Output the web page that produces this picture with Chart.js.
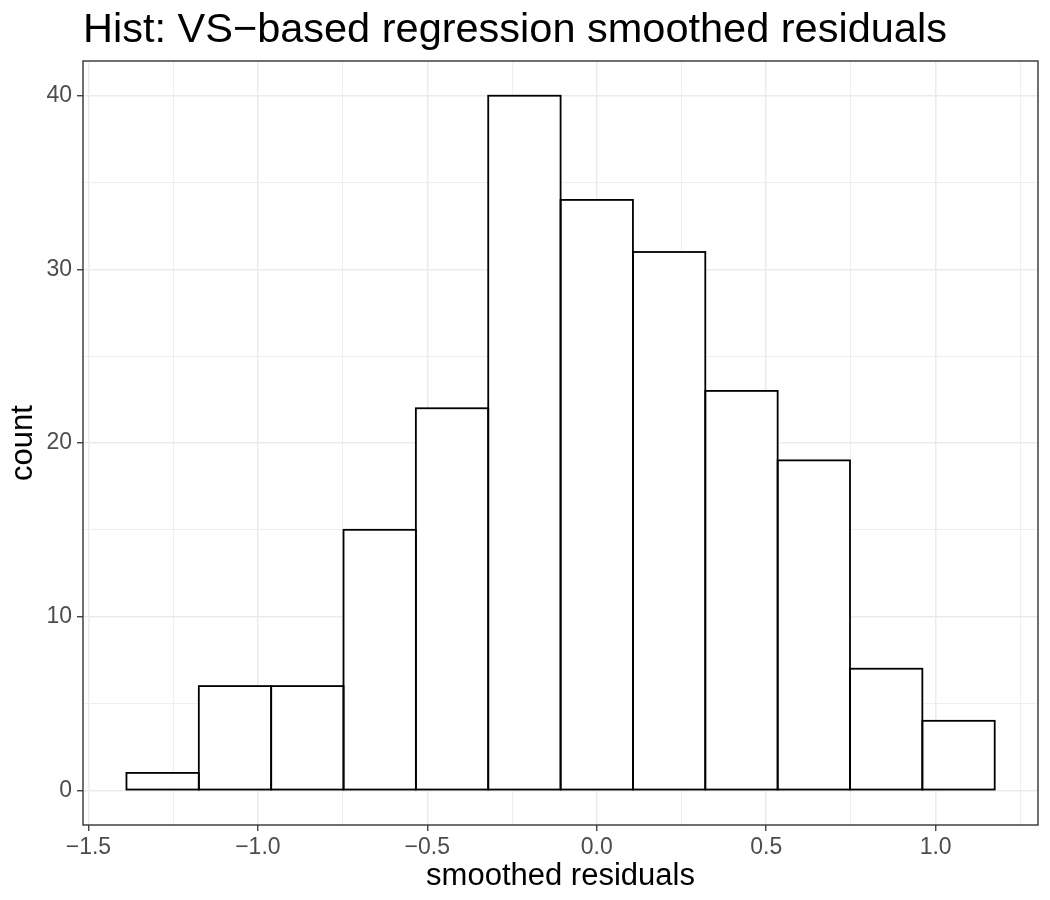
<!DOCTYPE html>
<html>
<head>
<meta charset="utf-8">
<script src="https://cdn.jsdelivr.net/npm/chart.js@4/dist/chart.umd.min.js"></script>
<style>
  body { margin: 0; background: #ffffff; }
  canvas { display: block; }
</style>
</head>
<body>
<canvas id="hist" width="1050" height="900"></canvas>
<script>
// chart data
const titleText = "Hist: VS\u2212based regression smoothed residuals";
const xTitle = "smoothed residuals";
const yTitle = "count";

// bin centres and counts (12 bins)
const binCenters = [-1.281, -1.0675, -0.854, -0.6405, -0.427, -0.2135, 0, 0.2135, 0.427, 0.6405, 0.854, 1.0675];
const counts = [1, 6, 6, 15, 22, 40, 34, 31, 23, 19, 7, 4];

// axis ticks
const xMajor = [-1.5, -1.0, -0.5, 0, 0.5, 1.0];
const xMajorLabels = ["\u22121.5", "\u22121.0", "\u22120.5", "0.0", "0.5", "1.0"];
const xMinor = [-1.25, -0.75, -0.25, 0.25, 0.75, 1.25];
const yMajor = [0, 10, 20, 30, 40];
const yMajorLabels = ["0", "10", "20", "30", "40"];
const yMinor = [5, 15, 25, 35];

// axis limits
const xMin = -1.516;
const xMax = 1.302;
const yMin = -2;
const yMax = 42;

// colours
const gridColor = "#EBEBEB";
const axisColor = "#333333";
const tickLabelColor = "#4D4D4D";

Chart.defaults.font.family = '"Liberation Sans", Arial, Helvetica, sans-serif';

const isMajor = (list, v) => list.indexOf(v) > -1;

// builds a sorted tick list from major + minor values
const makeTicks = (major, minor) => {
  return major.concat(minor).sort((a, b) => a - b).map((v) => ({ value: v }));
};

// draws the plot title left aligned to the panel
const titlePlugin = {
  id: "panelTitle",
  afterDraw(chart) {
    const ctx = chart.ctx;
    ctx.save();
    ctx.font = '41.5px "Liberation Sans", Arial, sans-serif';
    ctx.fillStyle = "#000000";
    ctx.textBaseline = "alphabetic";
    ctx.textAlign = "left";
    ctx.fillText(titleText, chart.chartArea.left, 42);
    ctx.restore();
  },
};

// outlines each bar with a centred stroke like ggplot, and the panel border
const outlinePlugin = {
  id: "outlines",
  afterDatasetsDraw(chart) {
    const ctx = chart.ctx;
    const meta = chart.getDatasetMeta(0);
    ctx.save();
    ctx.strokeStyle = "#000000";
    ctx.lineWidth = 1.8;
    for (const bar of meta.data) {
      const p = bar.getProps(["x", "y", "base", "width"], true);
      ctx.strokeRect(p.x - p.width / 2, p.y, p.width, p.base - p.y);
    }
    ctx.restore();
  },
  afterDraw(chart) {
    const a = chart.chartArea;
    const ctx = chart.ctx;
    ctx.save();
    ctx.strokeStyle = axisColor;
    ctx.lineWidth = 1.4;
    ctx.strokeRect(a.left, a.top, a.right - a.left, a.bottom - a.top);
    ctx.restore();
  },
};

const histData = {
  type: "bar",
  data: {
    datasets: [
      {
        label: "count",
        data: binCenters.map((x, i) => ({ x: x, y: counts[i] })),
        backgroundColor: "#ffffff",
        borderWidth: 0,
        barPercentage: 1,
        categoryPercentage: 1,
      },
    ],
  },
  options: {
    responsive: false,
    animation: false,
    layout: {
      padding: { top: 61, right: 12, bottom: 0, left: 0 },
    },
    plugins: {
      legend: { display: false },
      tooltip: { enabled: false },
      title: { display: false },
    },
    scales: {
      x: {
        type: "linear",
        min: xMin,
        max: xMax,
        offset: false,
        afterBuildTicks: (scale) => {
          scale.ticks = makeTicks(xMajor, xMinor);
        },
        afterFit: (scale) => {
          scale.height = 75;
        },
        grid: {
          offset: false,
          color: (c) => gridColor,
          lineWidth: (c) => (c.tick && isMajor(xMajor, c.tick.value) ? 1.5 : 0.8),
          tickColor: (c) => (c.tick && isMajor(xMajor, c.tick.value) ? axisColor : "rgba(0,0,0,0)"),
          tickLength: 6,
          tickWidth: 1.3,
        },
        border: { display: false },
        ticks: {
          autoSkip: false,
          maxRotation: 0,
          padding: 3,
          color: tickLabelColor,
          font: { size: 23 },
          callback: (value) => {
            const idx = xMajor.indexOf(value);
            return idx > -1 ? xMajorLabels[idx] : "";
          },
        },
        title: {
          display: true,
          text: xTitle,
          color: "#000000",
          font: { size: 31, lineHeight: 1 },
          padding: { top: 0, bottom: 8 },
        },
      },
      y: {
        type: "linear",
        min: yMin,
        max: yMax,
        afterBuildTicks: (scale) => {
          scale.ticks = makeTicks(yMajor, yMinor);
        },
        afterFit: (scale) => {
          scale.width = 83;
        },
        grid: {
          color: (c) => gridColor,
          lineWidth: (c) => (c.tick && isMajor(yMajor, c.tick.value) ? 1.5 : 0.8),
          tickColor: (c) => (c.tick && isMajor(yMajor, c.tick.value) ? axisColor : "rgba(0,0,0,0)"),
          tickLength: 6,
          tickWidth: 1.3,
        },
        border: { display: false },
        ticks: {
          autoSkip: false,
          padding: 5,
          color: tickLabelColor,
          font: { size: 23 },
          callback: (value) => {
            const idx = yMajor.indexOf(value);
            return idx > -1 ? yMajorLabels[idx] : "";
          },
        },
        title: {
          display: true,
          text: yTitle,
          color: "#000000",
          font: { size: 31, lineHeight: 1 },
          padding: { top: 8, bottom: 0 },
        },
      },
    },
  },
  plugins: [titlePlugin, outlinePlugin],
};

const ctx = document.querySelector("#hist").getContext("2d");
const histChart = new Chart(ctx, histData);
</script>
</body>
</html>
